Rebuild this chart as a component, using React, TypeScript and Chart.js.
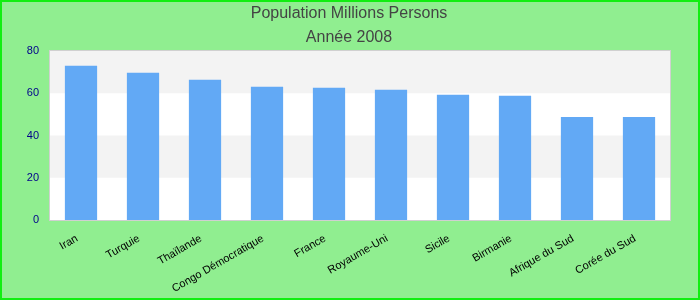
import React, { useEffect, useRef } from "react";
import { Chart, registerables } from "chart.js";

Chart.register(...registerables);

const categories = [
  "Iran",
  "Turquie",
  "Thaïlande",
  "Congo Démocratique",
  "France",
  "Royaume-Uni",
  "Sicile",
  "Birmanie",
  "Afrique du Sud",
  "Corée du Sud",
];
const population = [73.0, 69.7, 66.4, 63.1, 62.6, 61.6, 59.3, 58.8, 48.8, 48.8];
const titleLines = ["Population Millions Persons", "Année 2008"];
const yMin = 0;
const yMax = 80;
const yStep = 20;

const FONT = "Arial, 'Liberation Sans', sans-serif";

const bgPlugin = {
  id: "bgPlugin",
  beforeDraw(chart: any) {
    const { ctx, width, height, chartArea, scales } = chart;
    ctx.save();
    ctx.fillStyle = "#90ee90";
    ctx.fillRect(0, 0, width, height);
    ctx.strokeStyle = "#11ee11";
    ctx.lineWidth = 2;
    ctx.strokeRect(1, 1, width - 2, height - 2);
    // title
    ctx.fillStyle = "#444444";
    ctx.font = `16px ${FONT}`;
    ctx.textAlign = "center";
    ctx.textBaseline = "alphabetic";
    titleLines.forEach((t, i) => ctx.fillText(t, 349, 18 + i * 24));
    // plot area bands
    ctx.fillStyle = "#ffffff";
    ctx.fillRect(chartArea.left, chartArea.top, chartArea.right - chartArea.left, chartArea.bottom - chartArea.top);
    const y = scales.y;
    const ticks = y.ticks;
    for (let i = 0; i < ticks.length - 1; i++) {
      if (i % 2 === 1) {
        const y0 = y.getPixelForValue(ticks[i].value);
        const y1 = y.getPixelForValue(ticks[i + 1].value);
        ctx.fillStyle = "#f3f3f3";
        ctx.fillRect(chartArea.left, y1, chartArea.right - chartArea.left, y0 - y1);
      }
    }
    ctx.restore();
  },
  afterDraw(chart: any) {
    const { ctx, chartArea } = chart;
    ctx.save();
    ctx.strokeStyle = "#d0d0d0";
    ctx.lineWidth = 1;
    ctx.strokeRect(chartArea.left - 0.5, chartArea.top - 0.5, chartArea.right - chartArea.left + 1, chartArea.bottom - chartArea.top + 1);
    ctx.restore();
  },
};

export default function App() {
  const ref = useRef<HTMLCanvasElement | null>(null);
  useEffect(() => {
    document.body.style.margin = "0";
    const canvas = ref.current!;
    const chart = new Chart(canvas, {
      type: "bar",
      data: {
        labels: categories,
        datasets: [
          {
            data: population,
            backgroundColor: "#62a9f5",
            borderWidth: 0,
            barPercentage: 0.52,
            categoryPercentage: 1,
          },
        ],
      },
      options: {
        animation: false,
        responsive: false,
        layout: { padding: { left: 0, right: 30, top: 51, bottom: 0 } },
        plugins: {
          legend: { display: false },
          tooltip: { enabled: false },
          title: { display: false },
        },
        scales: {
          x: {
            grid: { display: false },
            border: { display: false },
            ticks: {
              color: "#000000",
              font: { family: FONT, size: 11 },
              minRotation: 30,
              maxRotation: 30,
              autoSkip: false,
              padding: 4,
              labelOffset: -4,
            },
            afterFit(scale: any) {
              scale.height = 80;
            },
          },
          y: {
            min: yMin,
            max: yMax,
            grid: { display: false },
            border: { display: false },
            ticks: {
              stepSize: yStep,
              color: "#00008b",
              font: { family: FONT, size: 11 },
              padding: 3,
            },
            afterFit(scale: any) {
              scale.width = 50;
            },
          },
        },
      },
      plugins: [bgPlugin],
    });
    return () => chart.destroy();
  }, []);
  return <canvas ref={ref} width={700} height={300} style={{ display: "block" }} />;
}
